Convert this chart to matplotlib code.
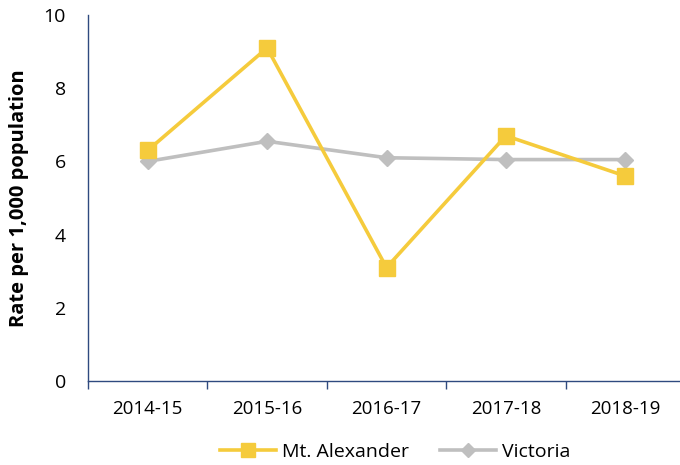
import matplotlib
matplotlib.use("Agg")
import matplotlib.pyplot as plt
from matplotlib.lines import Line2D

categories = ["2014-15", "2015-16", "2016-17", "2017-18", "2018-19"]
mt_alexander = [6.3, 9.1, 3.1, 6.7, 5.6]
victoria = [6.0, 6.55, 6.1, 6.05, 6.05]
yticks = [0, 2, 4, 6, 8, 10]

plt.rcParams['font.family'] = ['Open Sans', 'DejaVu Sans']

fig = plt.figure(figsize=(6.8, 4.65), dpi=100)
ax = fig.add_axes([88/680, 1-381/465, (685-88)/680, (381-15)/465])

x = list(range(len(categories)))
ax.plot(x, mt_alexander, color="#F5CB3C", lw=2.6, marker="s", ms=11.5,
        label="Mt. Alexander", zorder=3)
ax.plot(x, victoria, color="#BFBFBF", lw=2.6, marker="D", ms=8.5,
        label="Victoria", zorder=2)

ax.set_xlim(-0.5, 4.5)
ax.set_ylim(0, 10)
ax.set_yticks(yticks)
ax.set_yticklabels([str(v) for v in yticks], fontsize=14)
ax.set_xticks([i + 0.5 for i in range(-1, len(categories))], minor=False)
ax.set_xticklabels([])
ax.set_xticks(x, minor=True)
ax.set_xticklabels(categories, minor=True, fontsize=13.5)
ax.tick_params(axis='x', which='major', length=6, color="#2F4A7F", width=1)
ax.tick_params(axis='x', which='minor', length=0, pad=14)
ax.tick_params(axis='y', length=0, pad=16)

for s in ["top", "right"]:
    ax.spines[s].set_visible(False)
for s in ["left", "bottom"]:
    ax.spines[s].set_color("#2F4A7F")
    ax.spines[s].set_linewidth(1)

ax.set_ylabel("Rate per 1,000 population", fontsize=14.5, fontweight="bold")
ax.yaxis.set_label_coords((29-88)/597, 0.5)

handles = [
    Line2D([], [], color="#F5CB3C", lw=2.6, marker="s", ms=10),
    Line2D([], [], color="#BFBFBF", lw=2.6, marker="D", ms=7.5),
]
fig.legend(handles, ["Mt. Alexander", "Victoria"], loc="center",
           bbox_to_anchor=(395/680, 1-452/465), ncol=2, frameon=False,
           fontsize=14, handlelength=2.9, columnspacing=1.6, handletextpad=0.3)

fig.savefig("out.png", dpi=100)
